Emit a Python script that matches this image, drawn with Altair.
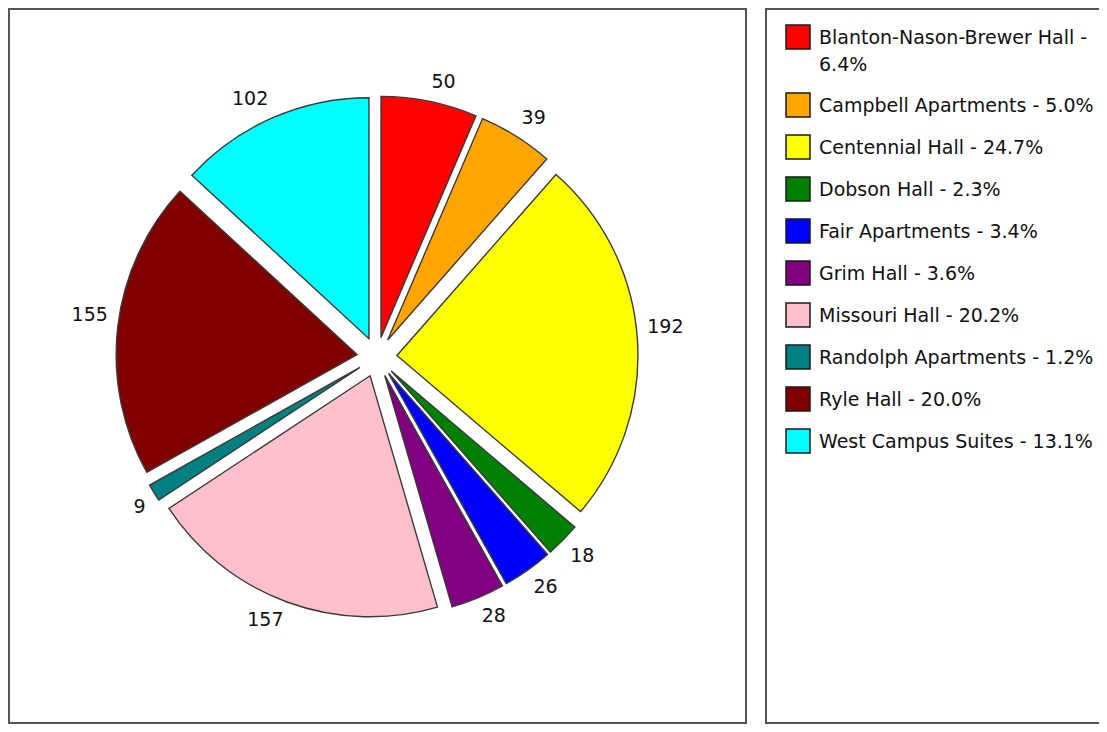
import altair as alt
import pandas as pd

# ---- data ----
names = [
    "Blanton-Nason-Brewer Hall",
    "Campbell Apartments",
    "Centennial Hall",
    "Dobson Hall",
    "Fair Apartments",
    "Grim Hall",
    "Missouri Hall",
    "Randolph Apartments",
    "Ryle Hall",
    "West Campus Suites",
]
values = [50, 39, 192, 18, 26, 28, 157, 9, 155, 102]
colors = ["#FF0000", "#FFA500", "#FFFF00", "#008000", "#0000FF",
          "#800080", "#FFC0CB", "#008080", "#800000", "#00FFFF"]

df = pd.DataFrame({"name": names, "value": values, "order": list(range(len(names)))})

# ---- layout constants ----
W, H = 1091, 716
CX, CY = 369, 349
R = 241
EXPLODE = 20
LABEL_R = 271
FONT = "DejaVu Sans"
FS = 19
LEG_X_SW = 790
LEG_X_TXT = 811
LEG_Y0 = 29
LEG_STEP = 42
LEG_EXTRA = 26

color_scale = alt.Scale(domain=names, range=colors)

base = (
    alt.Chart(df)
    .transform_window(cum="sum(value)", sort=[alt.SortField("order")])
    .transform_joinaggregate(total="sum(value)")
    .transform_calculate(a0="(datum.cum - datum.value) / datum.total * 2 * PI")
    .transform_calculate(a1="datum.cum / datum.total * 2 * PI")
    .transform_calculate(mid="(datum.a0 + datum.a1) / 2")
    .transform_calculate(cx=f"{CX} + {EXPLODE} * sin(datum.mid)")
    .transform_calculate(cy=f"{CY} - {EXPLODE} * cos(datum.mid)")
    .transform_calculate(lx=f"{CX} + {LABEL_R} * sin(datum.mid)")
    .transform_calculate(ly=f"{CY} - {LABEL_R} * cos(datum.mid)")
)

arcs = base.mark_arc(radius=R, stroke="#3a3a3a", strokeWidth=1.4).encode(
    theta=alt.Theta("a0:Q", scale=None, stack=False),
    theta2="a1:Q",
    x=alt.X("cx:Q", scale=None, axis=None),
    y=alt.Y("cy:Q", scale=None, axis=None),
    color=alt.Color("name:N", scale=color_scale, legend=None),
)


def quad_labels(cond, align, baseline):
    return (
        base.transform_filter(cond)
        .mark_text(align=align, baseline=baseline, font=FONT, fontSize=FS, color="#111111")
        .encode(
            x=alt.X("lx:Q", scale=None, axis=None),
            y=alt.Y("ly:Q", scale=None, axis=None),
            text="value:Q",
        )
    )


labels = [
    quad_labels("sin(datum.mid) >= 0 && cos(datum.mid) >= 0", "left", "bottom"),
    quad_labels("sin(datum.mid) >= 0 && cos(datum.mid) < 0", "left", "top"),
    quad_labels("sin(datum.mid) < 0 && cos(datum.mid) < 0", "right", "top"),
    quad_labels("sin(datum.mid) < 0 && cos(datum.mid) >= 0", "right", "bottom"),
]

leg = (
    alt.Chart(df)
    .transform_joinaggregate(total="sum(value)")
    .transform_calculate(pct="format(datum.value / datum.total * 100, '.1f') + '%'")
    .transform_calculate(full="datum.name + ' - ' + datum.pct")
    .transform_calculate(lines="length(datum.full) > 28 ? 2 : 1")
    .transform_calculate(label="length(datum.full) > 28 ? datum.name + ' -\\n' + datum.pct : datum.full")
    .transform_window(cumlines="sum(lines)", sort=[alt.SortField("order")])
    .transform_calculate(
        ry=f"{LEG_Y0} + {LEG_STEP} * datum.order + {LEG_EXTRA} * (datum.cumlines - datum.lines - datum.order)"
    )
)

swatches = leg.mark_square(size=576, stroke="#1a1a1a", strokeWidth=1.5, opacity=1).encode(
    x=alt.value(LEG_X_SW),
    y=alt.Y("ry:Q", scale=None, axis=None),
    color=alt.Color("name:N", scale=color_scale, legend=None),
)

leg_text = leg.mark_text(
    align="left", baseline="alphabetic", font=FONT, fontSize=FS,
    lineBreak="\n", lineHeight=27, dy=7, color="#111111",
).encode(
    x=alt.value(LEG_X_TXT),
    y=alt.Y("ry:Q", scale=None, axis=None),
    text="label:N",
)

box_df = pd.DataFrame({"panel": ["box"]})
box_pie = alt.Chart(box_df).mark_rect(fill="#FFFFFF", stroke="#555555", strokeWidth=2).encode(
    x=alt.value(1), x2=alt.value(738), y=alt.value(1), y2=alt.value(H - 1)
)
box_leg = alt.Chart(box_df).mark_rect(fill="#FFFFFF", stroke="#555555", strokeWidth=2).encode(
    x=alt.value(758), x2=alt.value(W + 30), y=alt.value(1), y2=alt.value(H - 1)
)

chart = (
    alt.layer(box_pie, box_leg, arcs, *labels, swatches, leg_text)
    .properties(width=W, height=H, padding=0, autosize=alt.AutoSizeParams(type="none"))
    .configure_view(strokeOpacity=0)
)

chart.save("out.html", embed_options={"renderer": "svg", "actions": False})
